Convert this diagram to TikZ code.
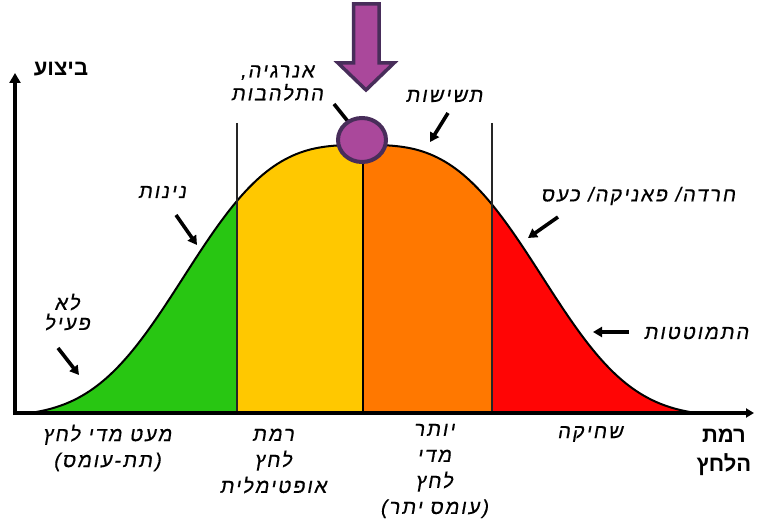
\documentclass[tikz,border=0pt]{standalone}
\usepackage{fontspec}
\usetikzlibrary{arrows.meta,shapes.geometric}
\TeXXeTstate=1
\newfontfamily\hebfont[Script=Hebrew]{Liberation Sans}
\newfontfamily\hebslant[Script=Hebrew,FakeSlant=0.18,FakeBold=0.5,LetterSpace=10]{Liberation Sans}
\newcommand{\heR}[1]{\beginR #1\endR}
\definecolor{cgreen}{RGB}{40,198,18}
\definecolor{cyellow}{RGB}{255,200,0}
\definecolor{corange}{RGB}{255,120,0}
\definecolor{cred}{RGB}{255,5,5}
\definecolor{pfill}{RGB}{170,72,155}
\definecolor{pline}{RGB}{72,45,90}
\tikzset{
  cur/.style={font=\hebslant\fontsize{20}{26}\selectfont, align=center, inner sep=0pt},
  axlab/.style={font=\hebfont\bfseries\fontsize{22}{29}\selectfont, align=center, inner sep=0pt},
  pointer/.style={line width=3.6pt, -{Triangle[length=9pt,width=10pt]}},
  axis/.style={line width=4.5pt},
  divider/.style={line width=1.8pt, black!85},
  declare function={bell(\t)=413-268*(exp(-(abs(\t-363)/205.5)^3)-0.0142)/0.9858;},
}
\begin{document}
\begin{tikzpicture}[x=1pt,y=-1pt]
\useasboundingbox (0,0) rectangle (761,524);
% coloured areas under the curve
\foreach \xa/\xb/\col in {0/237/cgreen, 237/363/cyellow, 363/492/corange, 492/761/cred}{
  \begin{scope}
    \clip (\xa,0) rectangle (\xb,413);
    \fill[\col] plot[domain=30:696, samples=181, smooth] (\x, {bell(\x)}) -- cycle;
  \end{scope}
}
% curve outline
\draw[line width=2pt] plot[domain=30:696, samples=181, smooth] (\x, {bell(\x)});
% dividers
\coordinate (d1t) at (237,123); \coordinate (d1b) at (237,413);
\coordinate (d2t) at (363,145); \coordinate (d2b) at (363,413);
\coordinate (d3t) at (492,123); \coordinate (d3b) at (492,413);
\draw[divider] (d1t) -- (d1b);
\draw[line width=1.5pt] (d2t) -- (d2b);
\draw[divider] (d3t) -- (d3b);
% axes
\coordinate (o) at (15,413);
\coordinate (ytop) at (15,73);
\coordinate (xend) at (754,413);
\draw[axis, -{Triangle[length=10pt,width=11pt]}] (15,415.2) -- (ytop);
\draw[axis, -{Triangle[length=8pt,width=9pt]}] (12.8,413) -- (xend);
% small pointer arrows
\coordinate (p1s) at (58,348); \coordinate (p1e) at (79,375);
\coordinate (p2s) at (176,215); \coordinate (p2e) at (197,245);
\coordinate (p3s) at (334,104); \coordinate (p3e) at (358,134);
\coordinate (p4s) at (448,113); \coordinate (p4e) at (430,142);
\coordinate (p5s) at (558,217); \coordinate (p5e) at (528,238);
\coordinate (p6s) at (629,332); \coordinate (p6e) at (593,332);
\draw[pointer] (p1s) -- (p1e);
\draw[pointer] (p2s) -- (p2e);
\draw[pointer] (p3s) -- (p3e);
\draw[pointer] (p4s) -- (p4e);
\draw[pointer] (p5s) -- (p5e);
\draw[pointer] (p6s) -- (p6e);
% peak marker
\node[draw=pline, fill=pfill, line width=4pt, ellipse, minimum width=48pt, minimum height=44pt, inner sep=0pt] (peak) at (362,140) {};
% big arrow
\draw[pline, fill=pfill, line width=3.5pt, line join=miter]
  (353.5,4) -- (379,4) -- (379,63) -- (394,63) -- (366,90) -- (338,63) -- (353.5,63) -- cycle;
% labels
\node[axlab] (yl) at (61,69) {\heR{ביצוע}};
\node[axlab] (xl) at (724,452) {\heR{רמת}\\\heR{הלחץ}};
\node[cur] (energy) at (277,83) {\heR{אנרגיה,}\\[-3pt]\heR{התלהבות}};
\node[cur] (tired) at (444,96) {\heR{תשישות}};
\node[cur] (calm) at (162,192) {\heR{נינות}};
\node[cur] (panic) at (638,196) {\heR{חרדה/ פאניקה/ כעס}};
\node[cur] (inactive) at (67,312) {\heR{לא}\\[-6pt]\heR{פעיל}};
\node[cur] (collapse) at (696,333) {\heR{התמוטטות}};
\node[cur] (low) at (107,448) {\heR{מעט מדי לחץ}\\\heR{(תת-עומס)}};
\node[cur] (opt) at (273,461) {\heR{רמת}\\\heR{לחץ}\\\heR{אופטימלית}};
\node[cur] (high) at (434,471) {\heR{יותר}\\\heR{מדי}\\\heR{לחץ}\\\heR{(עומס יתר)}};
\node[cur] (burn) at (590,434) {\heR{שחיקה}};
\end{tikzpicture}
\end{document}
